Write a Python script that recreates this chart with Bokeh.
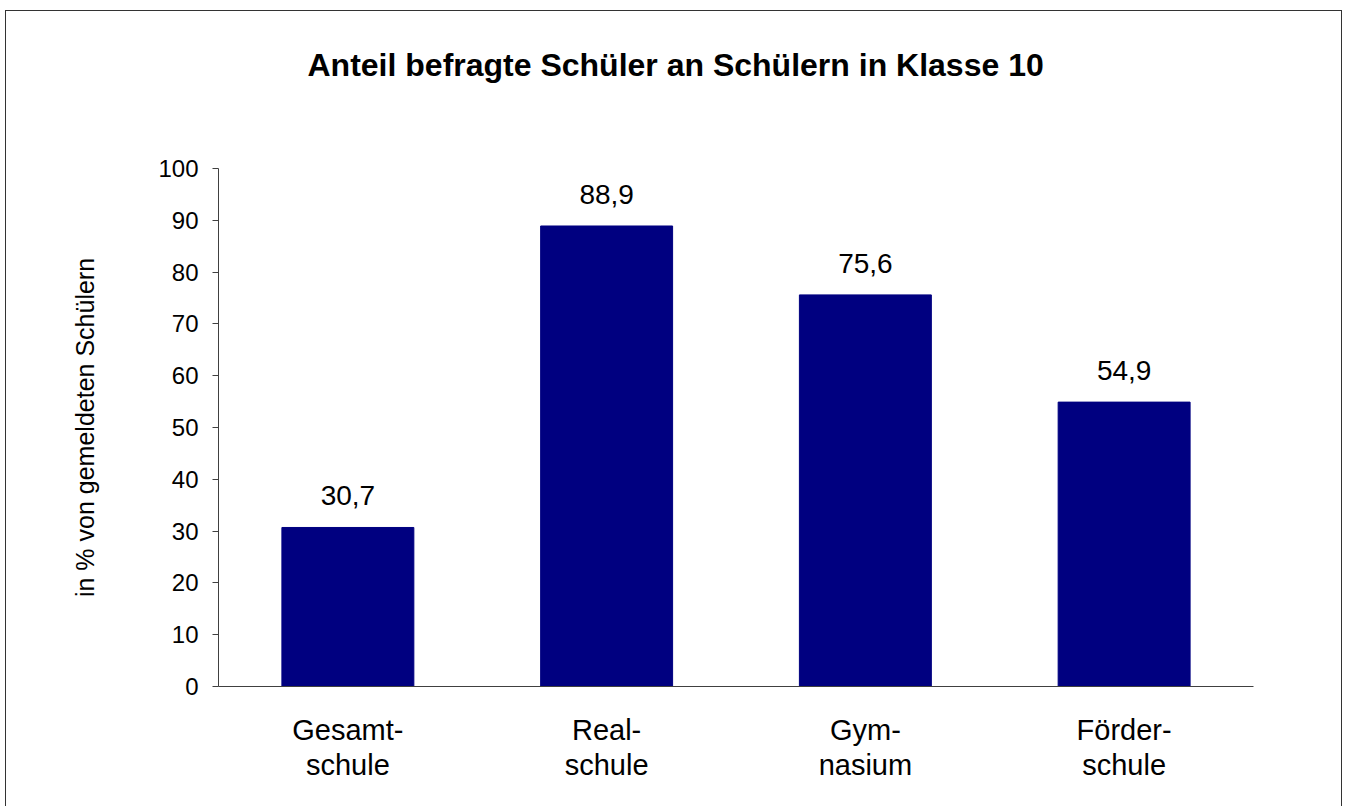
from bokeh.plotting import figure
from bokeh.models import FactorRange, Range1d, ColumnDataSource, LabelSet, FixedTicker, Title
from bokeh.core.properties import value
from bokeh.embed import file_html
from bokeh.resources import INLINE

# ---- data ----
categories = ["Gesamt-\nschule", "Real-\nschule", "Gym-\nnasium", "Förder-\nschule"]
values = [30.7, 88.9, 75.6, 54.9]
value_labels = ["30,7", "88,9", "75,6", "54,9"]
y_ticks = [0, 10, 20, 30, 40, 50, 60, 70, 80, 90, 100]
title_text = "Anteil befragte Schüler an Schülern in Klasse 10"
y_label = "in % von gemeldeten Schülern"

FONT = "Liberation Sans"
BAR = "#000080"
AX = "#404040"

src = ColumnDataSource(dict(cat=categories, val=values, lab=value_labels))

p = figure(
    x_range=FactorRange(*categories, range_padding=0),
    y_range=Range1d(0, 100),
    width=1337, height=796,
    output_backend="svg", toolbar_location=None,
    min_border_left=212, min_border_right=90,
    min_border_top=157, min_border_bottom=121,
)
p.styles = {"border-top": "1px solid #333333",
            "border-left": "1px solid #333333",
            "border-right": "1px solid #333333",
            "margin-left": "5px", "margin-top": "10px"}
p.outline_line_color = None
p.xgrid.grid_line_color = None
p.ygrid.grid_line_color = None
p.background_fill_color = "white"
p.border_fill_color = "white"

# empty spacer panel between the frame and the title
spacer = Title(text=" ", text_font_size="1px", standoff=78)
p.add_layout(spacer, "above")

p.title.text = title_text
p.title.align = "left"
p.title.offset = 89
p.title.standoff = 10
p.title.text_font = FONT
p.title.text_font_size = "32px"
p.title.text_font_style = "bold"
p.title.text_color = "black"

p.vbar(x="cat", top="val", width=0.51, source=src,
       fill_color=BAR, line_color=BAR, line_width=1)

labels = LabelSet(x="cat", y="val", text="lab", source=src,
                  y_offset=22, text_align="center", text_baseline="alphabetic",
                  text_font=value(FONT), text_font_size=value("28px"),
                  text_color="black")
p.add_layout(labels)

# y axis
yax = p.yaxis[0]
yax.ticker = FixedTicker(ticks=y_ticks)
yax.axis_line_color = AX
yax.major_tick_line_color = AX
yax.major_tick_out = 6
yax.major_tick_in = 0
yax.minor_tick_line_color = None
yax.major_label_standoff = 14
yax.major_label_text_font = FONT
yax.major_label_text_font_size = "24px"
yax.major_label_text_color = "black"
yax.axis_label = y_label
yax.axis_label_text_font = FONT
yax.axis_label_text_font_size = "25px"
yax.axis_label_text_font_style = "normal"
yax.axis_label_text_color = "black"
yax.axis_label_standoff = 56

# x axis
xax = p.xaxis[0]
xax.axis_line_color = AX
xax.major_tick_line_color = None
xax.major_tick_out = 0
xax.major_tick_in = 0
xax.minor_tick_line_color = None
xax.major_label_standoff = 27
xax.major_label_text_font = FONT
xax.major_label_text_font_size = "29px"
xax.major_label_text_line_height = 1.1
xax.major_label_text_color = "black"
xax.major_label_orientation = "horizontal"

with open("out.html", "w") as f:
    f.write(file_html(p, INLINE))
